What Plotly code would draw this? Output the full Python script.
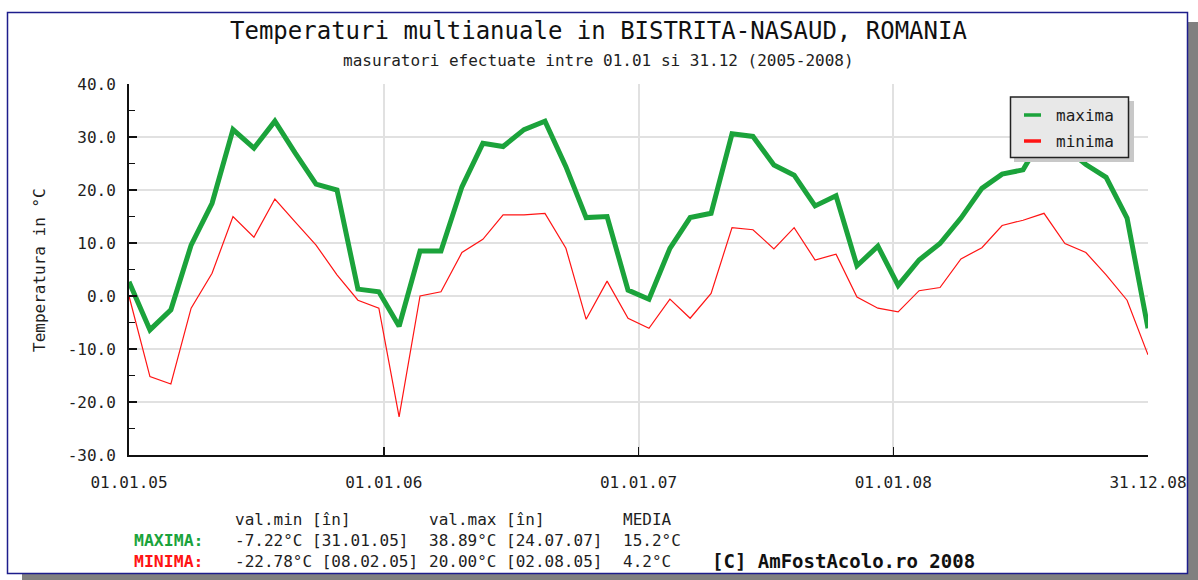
import plotly.graph_objects as go

# ---------------- data ----------------
dates = [
    "2005-01-01", "2005-01-31", "2005-03-02", "2005-03-31", "2005-04-30", "2005-05-30",
    "2005-06-29", "2005-07-29", "2005-08-27", "2005-09-26", "2005-10-26", "2005-11-25",
    "2005-12-25", "2006-01-23", "2006-02-22", "2006-03-24", "2006-04-23", "2006-05-23",
    "2006-06-21", "2006-07-21", "2006-08-20", "2006-09-19", "2006-10-18", "2006-11-17",
    "2006-12-17", "2007-01-16", "2007-02-15", "2007-03-16", "2007-04-15", "2007-05-15",
    "2007-06-14", "2007-07-14", "2007-08-12", "2007-09-11", "2007-10-11", "2007-11-10",
    "2007-12-10", "2008-01-08", "2008-02-07", "2008-03-08", "2008-04-07", "2008-05-07",
    "2008-06-05", "2008-07-05", "2008-08-04", "2008-09-03", "2008-10-03", "2008-11-01",
    "2008-12-01", "2008-12-31",
]
maxima = [
    2.7, -6.4, -2.6, 9.6, 17.5, 31.4, 27.9, 33.0, 27.0, 21.1, 20.0, 1.3,
    0.8, -5.7, 8.5, 8.5, 20.6, 28.8, 28.2, 31.4, 33.0, 24.4, 14.8, 15.0,
    1.1, -0.6, 9.0, 14.8, 15.6, 30.6, 30.1, 24.7, 22.8, 17.0, 18.9, 5.7,
    9.4, 2.0, 6.8, 9.9, 14.7, 20.3, 23.0, 23.8, 30.5, 28.0, 24.8, 22.4,
    14.7, -6.1,
]
minima = [
    0.0, -15.2, -16.6, -2.3, 4.3, 15.0, 11.1, 18.3, 14.0, 9.6, 4.0, -0.8,
    -2.3, -22.8, 0.0, 0.8, 8.2, 10.7, 15.3, 15.3, 15.6, 9.0, -4.4, 2.8,
    -4.2, -6.1, -0.6, -4.2, 0.5, 12.9, 12.5, 8.9, 12.9, 6.8, 7.9, -0.2,
    -2.3, -3.0, 1.0, 1.6, 7.0, 9.1, 13.3, 14.3, 15.6, 9.9, 8.2, 4.0,
    -0.8, -11.1,
]
series_names = ["maxima", "minima"]

x_tick_vals = ["2005-01-01", "2006-01-01", "2007-01-01", "2008-01-01", "2008-12-31"]
x_tick_text = ["01.01.05", "01.01.06", "01.01.07", "01.01.08", "31.12.08"]
y_tick_vals = [-30, -20, -10, 0, 10, 20, 30, 40]
y_tick_text = ["-30.0", "-20.0", "-10.0", "0.0", "10.0", "20.0", "30.0", "40.0"]

title_text = "Temperaturi multianuale in BISTRITA-NASAUD, ROMANIA"
subtitle_text = "masuratori efectuate intre 01.01 si 31.12 (2005-2008)"
y_title = "Temperatura in °C"

stat_headers = ["val.min [în]", "val.max [în]", "MEDIA"]
stat_labels = ["MAXIMA:", "MINIMA:"]
stat_max = ["-7.22°C [31.01.05]", "38.89°C [24.07.07]", "15.2°C"]
stat_min = ["-22.78°C [08.02.05]", "20.00°C [02.08.05]", "4.2°C"]
copyright_text = "[C] AmFostAcolo.ro 2008"

# ---------------- styling ----------------
MONO = "DejaVu Sans Mono"
GREEN = "#1ba33b"
RED = "#ff1414"
TXT = "#1e1e1e"
series_colors = [GREEN, RED]
series_widths = [5, 1.2]

L, R, T, B = 129, 1148, 84, 455
W_PIX, H_PIX = 1198, 580


def fx(x):
    return (x - L) / (R - L)


def fy(y):
    return (B - y) / (B - T)


fig = go.Figure()
for name, vals, col, w in zip(series_names, [maxima, minima], series_colors, series_widths):
    fig.add_trace(go.Scatter(
        x=dates, y=vals, name=name, mode="lines",
        line=dict(color=col, width=w), showlegend=False,
    ))

shapes = [
    # outer drop shadow
    dict(type="rect", xref="paper", yref="paper", x0=fx(1188), x1=fx(1198), y0=fy(580), y1=fy(22),
         fillcolor="#808080", line=dict(width=0), layer="below"),
    dict(type="rect", xref="paper", yref="paper", x0=fx(22), x1=fx(1198), y0=fy(580), y1=fy(574),
         fillcolor="#808080", line=dict(width=0), layer="below"),
    # frame
    dict(type="rect", xref="paper", yref="paper", x0=fx(7.5), x1=fx(1187.5), y0=fy(573.5), y1=fy(12.5),
         fillcolor="rgba(0,0,0,0)", line=dict(color="#1d1d8c", width=1.5), layer="above"),
    # legend shadow + box
    dict(type="rect", xref="paper", yref="paper", x0=fx(1014), x1=fx(1134), y0=fy(162), y1=fy(101),
         fillcolor="#c8c8c8", line=dict(width=0), layer="above"),
    dict(type="rect", xref="paper", yref="paper", x0=fx(1010.5), x1=fx(1128.5), y0=fy(157.5), y1=fy(97),
         fillcolor="#e8e8e8", line=dict(color="#222", width=1.5), layer="above"),
]

ann = []
legend_rows = [115, 141]
for name, col, ry in zip(series_names, series_colors, legend_rows):
    shapes.append(dict(type="line", xref="paper", yref="paper", x0=fx(1024), x1=fx(1041),
                       y0=fy(ry), y1=fy(ry), line=dict(color=col, width=3.5), layer="above"))
    ann.append(dict(text=name, x=fx(1054), y=fy(ry), xref="paper", yref="paper",
                    xanchor="left", yanchor="middle", showarrow=False,
                    font=dict(family=MONO, size=16, color=TXT)))

ann.append(dict(text=title_text, x=fx(598), y=fy(31), xref="paper", yref="paper",
                xanchor="center", yanchor="middle", showarrow=False,
                font=dict(family=MONO, size=24, color="#111")))
ann.append(dict(text=subtitle_text, x=fx(598), y=fy(61), xref="paper", yref="paper",
                xanchor="center", yanchor="middle", showarrow=False,
                font=dict(family=MONO, size=16, color=TXT)))
ann.append(dict(text=y_title, x=fx(39), y=fy(270), xref="paper", yref="paper",
                xanchor="center", yanchor="middle", showarrow=False, textangle=-90,
                font=dict(family=MONO, size=16, color=TXT)))

col_x = [233, 427, 621]
for cx, h in zip(col_x, stat_headers):
    ann.append(dict(text=h, x=fx(cx), y=fy(519), xref="paper", yref="paper",
                    xanchor="left", yanchor="middle", showarrow=False,
                    font=dict(family=MONO, size=16, color=TXT)))
for cx, s in zip(col_x, stat_max):
    ann.append(dict(text=s, x=fx(cx), y=fy(540), xref="paper", yref="paper",
                    xanchor="left", yanchor="middle", showarrow=False,
                    font=dict(family=MONO, size=16, color=TXT)))
for cx, s in zip(col_x, stat_min):
    ann.append(dict(text=s, x=fx(cx), y=fy(561), xref="paper", yref="paper",
                    xanchor="left", yanchor="middle", showarrow=False,
                    font=dict(family=MONO, size=16, color=TXT)))
for lab, col, ry in zip(stat_labels, series_colors, [540, 561]):
    ann.append(dict(text="<b>" + lab + "</b>", x=fx(206), y=fy(ry), xref="paper", yref="paper",
                    xanchor="right", yanchor="middle", showarrow=False,
                    font=dict(family=MONO, size=16.5, color=col)))
ann.append(dict(text="<b>" + copyright_text + "</b>", x=fx(710), y=fy(561), xref="paper", yref="paper",
                xanchor="left", yanchor="middle", showarrow=False,
                font=dict(family=MONO, size=19, color="#111")))

fig.update_layout(
    width=W_PIX, height=H_PIX,
    margin=dict(l=L, r=W_PIX - R, t=T, b=H_PIX - B, pad=0),
    paper_bgcolor="white", plot_bgcolor="white",
    font=dict(family=MONO, size=16, color=TXT),
    showlegend=False, hovermode=False,
    shapes=shapes, annotations=ann,
    xaxis=dict(type="date", range=[x_tick_vals[0], x_tick_vals[-1]],
               tickvals=x_tick_vals, ticktext=x_tick_text,
               ticks="inside", ticklen=8, tickwidth=1.5, tickcolor="#111",
               showline=True, linecolor="#111", linewidth=2,
               showgrid=True, gridcolor="#e1e1e1", gridwidth=2, zeroline=False,
               tickfont=dict(family=MONO, size=16, color=TXT), ticklabelstandoff=12),
    yaxis=dict(range=[-30, 40], tickvals=y_tick_vals, ticktext=y_tick_text,
               ticks="inside", ticklen=8, tickwidth=1.5, tickcolor="#111",
               showline=True, linecolor="#111", linewidth=2,
               showgrid=True, gridcolor="#e1e1e1", gridwidth=2, zeroline=False,
               minor=dict(tick0=-30, dtick=5, ticks="inside", ticklen=6, tickwidth=1.5,
                          tickcolor="#111", showgrid=False),
               tickfont=dict(family=MONO, size=16, color=TXT), ticklabelstandoff=8),
)

fig.write_html("out.html", config={"displayModeBar": False, "staticPlot": True},
               post_script="document.body.style.margin='0';document.body.style.overflow='hidden';")
